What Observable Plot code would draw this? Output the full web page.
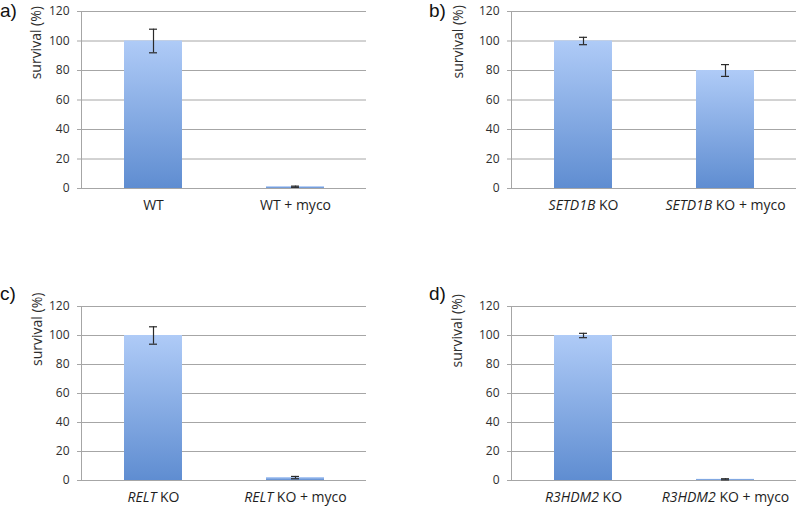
<!DOCTYPE html>
<html>
<head>
<meta charset="utf-8">
<script src="https://cdn.jsdelivr.net/npm/d3@7"></script>
<script src="https://cdn.jsdelivr.net/npm/@observablehq/plot@0.6"></script>
<style>
  body { margin: 0; background: #fff; }
  #fig { position: relative; width: 796px; height: 507px; overflow: hidden; background: #fff; font-family: "Open Sans", sans-serif; }
  .panel { position: absolute; }
  .letter { position: absolute; font-family: "Liberation Sans", Arial, sans-serif; font-size: 19px; line-height: 1.2; color: #111; }
</style>
</head>
<body>
<div id="fig"></div>
<script>
// Survival (%) per condition, mean and error, one set per panel
const labelsA = ["WT", "WT + myco"];
const survivalA = [100, 1.2];
const errorA = [8, 0.4];

const labelsB = ["SETD1B KO", "SETD1B KO + myco"];
const survivalB = [100, 80];
const errorB = [2.5, 4];

const labelsC = ["RELT KO", "RELT KO + myco"];
const survivalC = [100, 2];
const errorC = [6, 0.8];

const labelsD = ["R3HDM2 KO", "R3HDM2 KO + myco"];
const survivalD = [100, 0.8];
const errorD = [1.5, 0.4];

const genes = ["", "SETD1B", "RELT", "R3HDM2"];
const panelLetters = ["a)", "b)", "c)", "d)"];
const yTicks = [0, 20, 40, 60, 80, 100, 120];
const yTitle = "survival (%)";

const GRID = "#a6a6a6";

function panel({labels, values, errors, gene, id, width, height, marginLeft, marginRight, marginTop, marginBottom, titleY, titleDx}) {
  const data = labels.map((label, i) => ({label, value: values[i], err: errors[i]}));

  // vertical blue gradient shared by both bars of the panel
  const defs = () => {
    const d = d3.create("svg:defs");
    const g = d.append("linearGradient").attr("id", id)
      .attr("x1", 0).attr("y1", 0).attr("x2", 0).attr("y2", 1);
    g.append("stop").attr("offset", "0%").attr("stop-color", "#afcbf7");
    g.append("stop").attr("offset", "100%").attr("stop-color", "#5f8dd1");
    return d.node();
  };

  const svg = Plot.plot({
    width, height, marginLeft, marginRight, marginTop, marginBottom,
    style: {fontFamily: '"Open Sans", sans-serif', fontSize: "12px", color: "#333", background: "transparent", overflow: "visible"},
    x: {domain: labels, paddingInner: 0.593, paddingOuter: 0.296, label: null},
    y: {domain: [0, 120], label: null},
    marks: [
      defs,
      Plot.gridY(yTicks, {stroke: GRID, strokeOpacity: 1}),
      Plot.axisY(yTicks, {tickSize: 4, tickPadding: 8, stroke: GRID, strokeOpacity: 1, fill: "#2e2e2e"}),
      Plot.frame({anchor: "left", stroke: GRID}),
      Plot.barY(data, {x: "label", y: "value", fill: `url(#${id})`}),
      Plot.ruleX(data, {x: "label", y1: d => d.value - d.err, y2: d => d.value + d.err, stroke: "#2a2a2a", strokeWidth: 1.2}),
      Plot.tickY(data, {x: "label", y: d => d.value + d.err, insetLeft: 25, insetRight: 25, stroke: "#2a2a2a", strokeWidth: 1.2}),
      Plot.tickY(data, {x: "label", y: d => d.value - d.err, insetLeft: 25, insetRight: 25, stroke: "#2a2a2a", strokeWidth: 1.2}),
      Plot.axisX({tickSize: 0, tickPadding: 12, fontSize: 14, fill: "#1e1e1e"}),
      Plot.text([{t: yTitle, y: titleY}], {text: "t", y: "y", frameAnchor: "left", dx: titleDx, rotate: -90, fontSize: 14, fill: "#2e2e2e"})
    ]
  });

  // gene names are set in italics
  if (gene) {
    d3.select(svg).selectAll('g[aria-label="x-axis tick label"] text').each(function () {
      const t = this.textContent;
      if (t.startsWith(gene)) {
        const sel = d3.select(this);
        sel.text("");
        sel.append("tspan").attr("font-style", "italic").text(gene);
        sel.append("tspan").text(t.slice(gene.length));
      }
    });
  }
  return svg;
}

const fig = document.getElementById("fig");

const layout = [
  {labels: labelsA, values: survivalA, errors: errorA, gene: genes[0], id: "gradA", left: 0, top: 0, width: 400, height: 230, marginLeft: 81, marginRight: 34, marginTop: 11, marginBottom: 42, titleY: 74, titleDx: -45},
  {labels: labelsB, values: survivalB, errors: errorB, gene: genes[1], id: "gradB", left: 400, top: 0, width: 396, height: 230, marginLeft: 111, marginRight: 0, marginTop: 11, marginBottom: 42, titleY: 74.6, titleDx: -53},
  {labels: labelsC, values: survivalC, errors: errorC, gene: genes[2], id: "gradC", left: 0, top: 280, width: 400, height: 227, marginLeft: 81, marginRight: 34, marginTop: 26, marginBottom: 27, titleY: 79, titleDx: -43.5},
  {labels: labelsD, values: survivalD, errors: errorD, gene: genes[3], id: "gradD", left: 400, top: 280, width: 396, height: 227, marginLeft: 111, marginRight: 0, marginTop: 26, marginBottom: 27, titleY: 78, titleDx: -54}
];

const letterPos = [[0, 0], [429, 0], [0, 283], [429, 283]];

layout.forEach((cfg, i) => {
  const wrap = document.createElement("div");
  wrap.className = "panel";
  wrap.style.left = cfg.left + "px";
  wrap.style.top = cfg.top + "px";
  wrap.appendChild(panel(cfg));
  fig.appendChild(wrap);

  const letter = document.createElement("div");
  letter.className = "letter";
  letter.textContent = panelLetters[i];
  letter.style.left = letterPos[i][0] + "px";
  letter.style.top = letterPos[i][1] + "px";
  fig.appendChild(letter);
});
</script>
</body>
</html>
